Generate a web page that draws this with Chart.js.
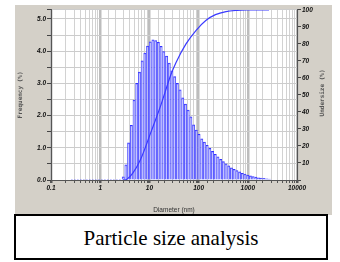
<!DOCTYPE html>
<html>
<head>
<meta charset="utf-8">
<title>Particle size analysis</title>
<script src="https://cdn.jsdelivr.net/npm/chart.js@4.4.1/dist/chart.umd.min.js"></script>
<style>
    html, body { margin: 0; padding: 0; background: #fff; }
    body { width: 340px; height: 262px; position: relative; overflow: hidden; }
    #panel { position: absolute; left: 15px; top: 5px; width: 317px; height: 210px; background: #d4d0c8; }
    #chart { position: absolute; left: 0; top: 0; }
    #caption {
        position: absolute; left: 14px; top: 214px; width: 314px; height: 46px;
        box-sizing: border-box; border: 2px solid #000; background: #fff;
        font: 21px 'Liberation Serif', 'Times New Roman', serif;
        text-align: center; line-height: 44px; color: #000;
    }
</style>
</head>
<body>
<div id="panel"><canvas id="chart" width="317" height="210"></canvas></div>
<div id="caption">Particle size analysis</div>
<script>
// ============================================================================
// Data
// ============================================================================

// bin centres, nm
const diameters = [
    2.94, 3.33, 3.78, 4.30, 4.88, 5.53, 6.28, 7.13, 8.09, 9.18,
    10.4, 11.8, 13.4, 15.2, 17.3, 19.6, 22.3, 25.3, 28.7, 32.6,
    37.0, 42.0, 47.6, 54.1, 61.4, 69.7, 79.1, 89.7, 102, 116,
    131, 149, 169, 192, 218, 247, 281, 318, 361, 410,
    466, 528, 600, 681, 773, 877, 995, 1130, 1282, 1455,
    1652, 1875, 2128, 2415, 2742
];

// frequency per bin, %
const frequency = [
    0.10, 0.47, 1.15, 1.70, 2.48, 3.00, 3.35, 3.70, 3.94, 4.16,
    4.29, 4.35, 4.33, 4.27, 4.15, 3.99, 3.85, 3.63, 3.39, 3.21,
    3.00, 2.80, 2.55, 2.36, 2.17, 1.96, 1.71, 1.55, 1.42, 1.28,
    1.18, 1.08, 0.98, 0.89, 0.80, 0.72, 0.64, 0.57, 0.50, 0.44,
    0.38, 0.33, 0.29, 0.25, 0.21, 0.18, 0.15, 0.13, 0.11, 0.09,
    0.07, 0.06, 0.05, 0.04, 0.03
];

// cumulative undersize curve
const undersizeDiameters = [2.9, 3.5, 4.6, 6.6, 10.7, 17.1, 27.4, 34.6, 55.5, 89, 140, 220, 360, 600, 1000, 1600, 2700];
const undersize = [0, 0.5, 4, 12, 28, 44, 62, 69, 80, 88, 93.8, 97.2, 99.0, 99.7, 99.95, 100, 100];

// empty channels below the distribution, dotted along zero
const emptyDiameters = [0.26, 2.8];
const emptyValues = [0, 0];

// tick labels
const xTickValues = [0.1, 1, 10, 100, 1000, 10000];
const xTickLabels = ['0.1', '1', '10', '100', '1000', '10000'];
const freqTickValues = [0, 1, 2, 3, 4, 5];
const freqTickLabels = ['0.0', '1.0', '2.0', '3.0', '4.0', '5.0'];
const undersizeTickValues = [10, 20, 30, 40, 50, 60, 70, 80, 90, 100];
const undersizeTickLabels = ['10', '20', '30', '40', '50', '60', '70', '80', '90', '100'];

// ============================================================================
// Helpers
// ============================================================================

function labelFor(values, labels, v) {
    const i = values.findIndex(t => Math.abs(v - t) <= Math.abs(t) * 1e-6 + 1e-9);
    return i < 0 ? '' : labels[i];
}

function isDecade(v) {
    return labelFor(xTickValues, xTickLabels, v) !== '';
}

function points(xs, ys) {
    return xs.map((x, i) => ({ x: x, y: ys[i] }));
}

const tickFont = { family: "'Liberation Sans', Arial, sans-serif", size: 6.5, style: 'italic', weight: 'bold' };

// white plot area on the grey panel
const plotBackground = {
    id: 'plotBackground',
    beforeDraw(chart) {
        const { ctx, chartArea: a } = chart;
        ctx.save();
        ctx.fillStyle = '#fff';
        ctx.fillRect(a.left, a.top, a.right - a.left, a.bottom - a.top);
        ctx.restore();
    }
};

// right axis title reads bottom to top, like the left one
const rightTitle = {
    id: 'rightTitle',
    afterDraw(chart) {
        const { ctx, chartArea: a } = chart;
        ctx.save();
        ctx.translate(307, (a.top + a.bottom) / 2 - 2);
        ctx.rotate(-Math.PI / 2);
        ctx.font = "bold 6px 'DejaVu Sans Mono', monospace";
        ctx.fillStyle = '#555';
        ctx.textAlign = 'center';
        ctx.textBaseline = 'middle';
        ctx.fillText('Undersize (%)', 0, 0);
        ctx.restore();
    }
};

// ============================================================================
// Chart
// ============================================================================

new Chart(document.getElementById('chart'), {
    type: 'bar',
    data: {
        datasets: [
            {
                type: 'line',
                data: points(undersizeDiameters, undersize),
                yAxisID: 'y2',
                borderColor: '#3a3aff',
                borderWidth: 1.2,
                pointRadius: 0,
                cubicInterpolationMode: 'monotone',
                order: 0
            },
            {
                type: 'line',
                data: points(emptyDiameters, emptyValues),
                yAxisID: 'y',
                borderColor: '#3a3aff',
                borderWidth: 1,
                borderDash: [1, 2],
                pointRadius: 0,
                order: 0
            },
            {
                type: 'bar',
                data: points(diameters, frequency),
                yAxisID: 'y',
                backgroundColor: 'rgba(240, 240, 255, 0.5)',
                borderColor: '#3434ff',
                borderWidth: { top: 1, left: 0.55, right: 0.55, bottom: 0 },
                categoryPercentage: 1,
                barPercentage: 1,
                order: 1
            }
        ]
    },
    options: {
        responsive: false,
        animation: false,
        devicePixelRatio: 1,
        layout: { padding: { top: 4, left: 0, right: 0, bottom: 0 } },
        plugins: { legend: { display: false }, tooltip: { enabled: false } },
        scales: {
            x: {
                type: 'logarithmic',
                min: 0.1,
                max: 10000,
                offset: false,
                afterFit(s) { s.height = 35; },
                grid: {
                    offset: false,
                    color: c => isDecade(c.tick.value) ? '#bdbdbd' : '#d2d2d2',
                    lineWidth: c => isDecade(c.tick.value) ? 2.5 : 1,
                    tickLength: 3,
                    tickColor: '#555'
                },
                border: { color: '#555', width: 1 },
                ticks: {
                    autoSkip: false,
                    maxRotation: 0,
                    font: tickFont,
                    color: '#111',
                    padding: 1,
                    callback: v => labelFor(xTickValues, xTickLabels, v)
                },
                title: {
                    display: true,
                    text: 'Diameter (nm)',
                    font: { family: "'Liberation Sans', Arial, sans-serif", size: 6.5 },
                    color: '#333',
                    padding: { top: 0, bottom: 1 }
                }
            },
            y: {
                position: 'left',
                min: 0,
                max: 5.28,
                afterFit(s) { s.width = 36; },
                grid: { color: '#cccccc', tickLength: 4, tickColor: '#444' },
                border: { color: '#555', width: 1 },
                ticks: {
                    stepSize: 0.5,
                    font: tickFont,
                    color: '#111',
                    padding: 1,
                    callback: v => labelFor(freqTickValues, freqTickLabels, v)
                },
                title: {
                    display: true,
                    text: 'Frequency (%)',
                    font: { family: "'DejaVu Sans Mono', monospace", size: 6, weight: 'bold' },
                    color: '#555',
                    padding: { top: 2, bottom: 0 }
                }
            },
            y2: {
                position: 'right',
                min: 0,
                max: 100,
                afterFit(s) { s.width = 35; },
                grid: { drawOnChartArea: false, tickLength: 4, tickColor: '#444' },
                border: { color: '#555', width: 1 },
                ticks: {
                    stepSize: 5,
                    font: tickFont,
                    color: '#111',
                    padding: 1,
                    callback: v => labelFor(undersizeTickValues, undersizeTickLabels, v)
                }
            }
        }
    },
    plugins: [plotBackground, rightTitle]
});
</script>
</body>
</html>
